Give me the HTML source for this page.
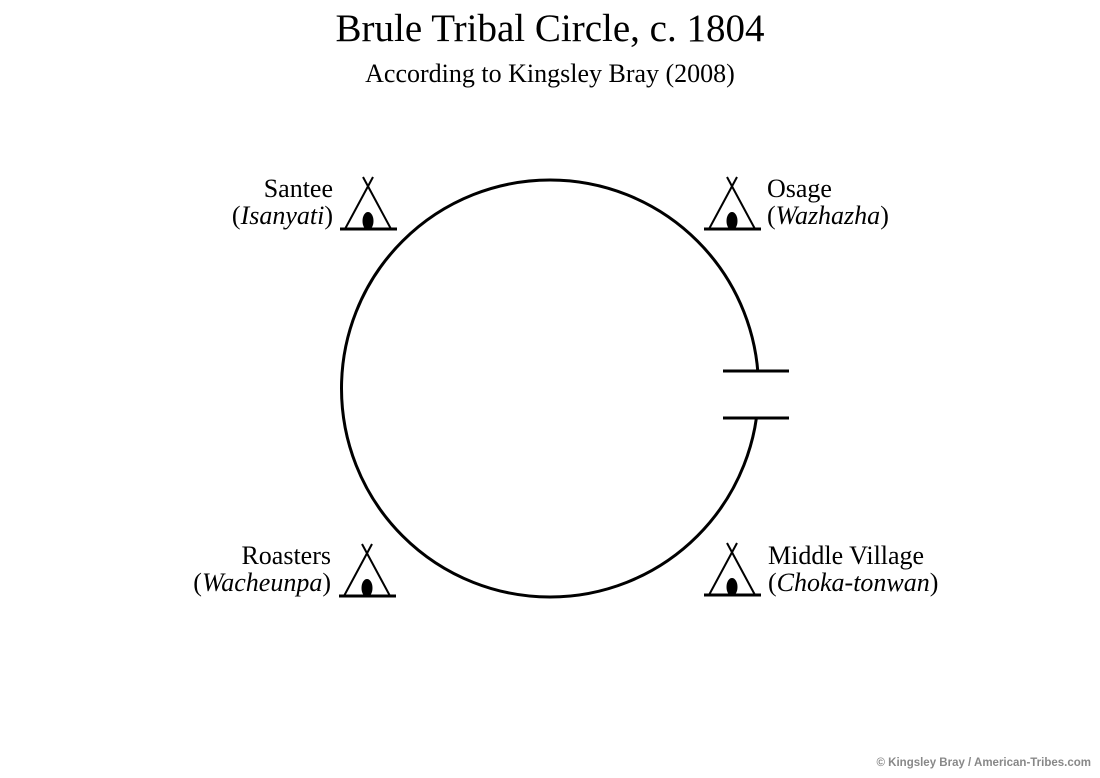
<!DOCTYPE html>
<html><head><style>
body{margin:0;background:#fff;}
svg{display:block;}
</style></head><body>
<svg width="1100" height="778" xmlns="http://www.w3.org/2000/svg" font-family="Liberation Serif, serif">
<defs>
<g id="tipi">
<line x1="-23" y1="0" x2="5" y2="-52" stroke="#000" stroke-width="2"/>
<line x1="23" y1="0" x2="-5" y2="-52" stroke="#000" stroke-width="2"/>
<line x1="-28" y1="0" x2="29" y2="0" stroke="#000" stroke-width="3"/>
<ellipse cx="0" cy="-8" rx="5.5" ry="9" fill="#000"/>
</g>
</defs>
<text x="550" y="41" font-size="39" text-anchor="middle">Brule Tribal Circle, c. 1804</text>
<text x="550" y="82" font-size="26" text-anchor="middle">According to Kingsley Bray (2008)</text>
<circle cx="550" cy="388.5" r="208.5" fill="none" stroke="#000" stroke-width="3"/>
<rect x="735" y="372.5" width="40" height="44" fill="#fff"/>
<line x1="723" y1="371" x2="789" y2="371" stroke="#000" stroke-width="3"/>
<line x1="723" y1="418" x2="789" y2="418" stroke="#000" stroke-width="3"/>
<use href="#tipi" x="368" y="229"/>
<use href="#tipi" x="732" y="229"/>
<use href="#tipi" x="367" y="596"/>
<use href="#tipi" x="732" y="595"/>
<g font-size="26">
<text x="333" y="197" text-anchor="end">Santee</text>
<text x="333" y="224" text-anchor="end">(<tspan font-style="italic">Isanyati</tspan>)</text>
<text x="767" y="197">Osage</text>
<text x="767" y="224">(<tspan font-style="italic">Wazhazha</tspan>)</text>
<text x="331" y="564" text-anchor="end">Roasters</text>
<text x="331" y="591" text-anchor="end">(<tspan font-style="italic">Wacheunpa</tspan>)</text>
<text x="768" y="564">Middle Village</text>
<text x="768" y="591">(<tspan font-style="italic">Choka-tonwan</tspan>)</text>
</g>
<text x="1091" y="766" font-size="11.5" font-weight="bold" font-family="Liberation Sans, sans-serif" fill="#888" text-anchor="end">© Kingsley Bray / American-Tribes.com</text>
</svg>
</body></html>
